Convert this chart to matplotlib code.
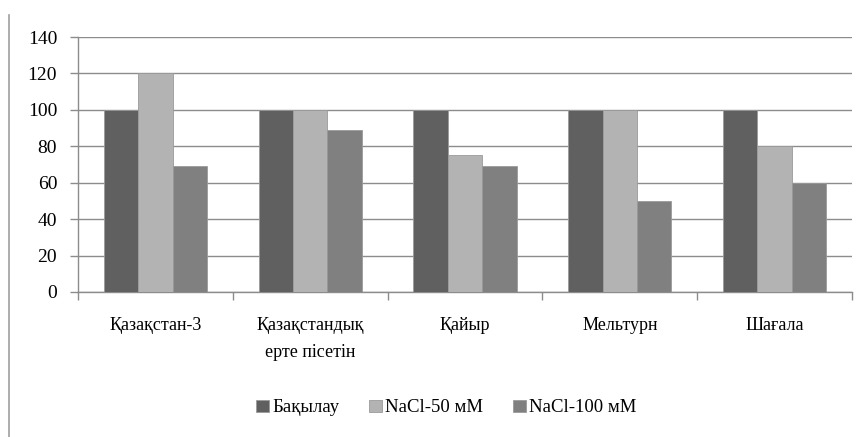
import numpy as np
import matplotlib.pyplot as plt
from matplotlib.lines import Line2D

# data
varieties = ["Қазақстан-3", "Қазақстандық\nерте пісетін", "Қайыр", "Мельтурн", "Шағала"]
control = [100, 100, 100, 100, 100]
nacl_50 = [120, 100, 75, 100, 80]
nacl_100 = [69, 89, 69, 50, 60]
series_names = ["Бақылау", "NaCl-50 мМ", "NaCl-100 мМ"]
colors = ["#606060", "#b3b3b3", "#808080"]

plt.rcParams['font.family'] = ['Liberation Serif', 'DejaVu Serif']

fig = plt.figure(figsize=(8.62, 4.37), dpi=100)
ax = fig.add_axes([78 / 862, 1 - 292 / 437, 774 / 862, 255 / 437])

x = np.arange(len(varieties))
w = 0.222
for i, (vals, name, c) in enumerate(zip([control, nacl_50, nacl_100], series_names, colors)):
    ax.bar(x + (i - 1) * w, vals, width=w, color=c, edgecolor="#9a9a9a",
           linewidth=0.6, label=name, zorder=3)

ax.set_xlim(-0.5, len(varieties) - 0.5)
ax.set_ylim(0, 140)
ax.set_yticks(range(0, 141, 20))
ax.yaxis.grid(True, color="#8c8c8c", linewidth=1.0, zorder=0)
ax.set_axisbelow(True)

ax.set_xticks(x)
ax.set_xticklabels(varieties, fontsize=13, linespacing=1.75)
ax.tick_params(axis="x", which="major", length=0, pad=18)
ax.set_xticks(np.arange(-0.5, len(varieties), 1), minor=True)
ax.tick_params(axis="x", which="minor", length=6, color="#8c8c8c", width=1)
ax.tick_params(axis="y", length=6, color="#8c8c8c", width=1, labelsize=14, pad=9)

for s in ["top", "right"]:
    ax.spines[s].set_visible(False)
for s in ["left", "bottom"]:
    ax.spines[s].set_color("#8c8c8c")
    ax.spines[s].set_linewidth(1)

fig.legend(loc="center", bbox_to_anchor=(0.518, 1 - 408 / 437), ncol=3,
           frameon=False, fontsize=13.5, handlelength=0.65, handleheight=0.65,
           handletextpad=0.2, columnspacing=1.6)

fig.add_artist(Line2D([9 / 862, 9 / 862], [0, 1 - 15 / 437], color="#a0a0a0",
                      linewidth=1.2, transform=fig.transFigure))

fig.savefig("out.png", dpi=100)
